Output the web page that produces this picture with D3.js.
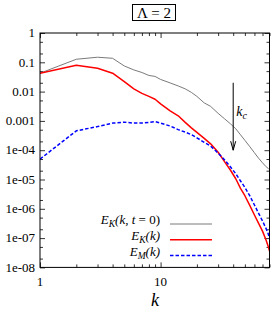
<!DOCTYPE html>
<html>
<head>
<meta charset="utf-8">
<script src="https://cdn.jsdelivr.net/npm/d3@7"></script>
<style>
body { margin: 0; background: #fff; }
svg { display: block; }
text { font-family: "Liberation Serif", "Times New Roman", serif; }
</style>
</head>
<body>
<script>
var w = 274, h = 311;
var margin = {top: 33, right: 4.5, bottom: 43.6, left: 40};
var innerW = w - margin.left - margin.right,
    innerH = h - margin.top - margin.bottom;

// wavenumbers and spectra
var ks = [1, 2, 3, 4, 5, 6, 7, 8, 9, 10, 12, 14, 16, 18, 20, 23, 26, 30, 34, 38, 42, 46, 50, 55, 60, 65, 70, 75, 78, 80];
var ekInit = [0.0424, 0.127, 0.149, 0.137, 0.075, 0.055, 0.0449, 0.0356, 0.033, 0.026, 0.0198, 0.0156, 0.0124, 0.0094, 0.00686,
    0.00412, 0.00313, 0.00181, 0.00117, 7.9e-4, 5.4e-4, 3.35e-4, 2.17e-4, 1.31e-4, 8.2e-5, 5.3e-5, 3.72e-5, 2.72e-5, 2.4e-5, 2.15e-5];
var ek = [0.0424, 0.0794, 0.0627, 0.0424, 0.0219, 0.0124, 0.0087, 0.00686, 0.0055, 0.0038, 0.0022, 0.00149, 8.9e-4, 5.8e-4, 4.07e-4,
    2.54e-4, 1.65e-4, 8.5e-5, 4.0e-5, 2.07e-5, 1.06e-5, 5.0e-6, 2.79e-6, 1.28e-6, 6.15e-7, 3.18e-7, 1.73e-7, 8.5e-8, 5.3e-8, 3.6e-8];
var em = [4.97e-5, 4.58e-4, 6.4e-4, 8.4e-4, 9.06e-4, 8.4e-4, 8.4e-4, 8.9e-4, 9.5e-4, 8.4e-4, 6.7e-4, 5.04e-4, 4.14e-4, 3.4e-4, 2.64e-4,
    1.86e-4, 1.38e-4, 8.0e-5, 4.6e-5, 2.68e-5, 1.57e-5, 8.9e-6, 5.4e-6, 2.75e-6, 1.35e-6, 7.0e-7, 3.84e-7, 2.1e-7, 1.42e-7, 9.6e-8];

var xTicks = [1, 10];
var xMinor = [2, 3, 4, 5, 6, 7, 8, 9, 20, 30, 40, 50, 60, 70, 80];
var yTicks = [1, 0.1, 0.01, 0.001, 1e-4, 1e-5, 1e-6, 1e-7, 1e-8];
var yTickLabels = ['1', '0.1', '0.01', '0.001', '1e-04', '1e-05', '1e-06', '1e-07', '1e-08'];
var yMinor = [];
yTicks.slice(1).forEach(function(t) { yMinor.push(t * 2, t * 5); });

var kc = 40, arrowFrom = 0.02, arrowTo = 1e-4;

var series = [
    {name: 'init', vals: ekInit, color: '#7a7a7a', width: 1, dash: null},
    {name: 'ek', vals: ek, color: '#ff0000', width: 1.5, dash: null},
    {name: 'em', vals: em, color: '#0000ff', width: 1.5, dash: '3.5,2'}
];

var x = d3.scaleLog().domain([1, 80]).range([0, innerW]);
var y = d3.scaleLog().domain([1e-8, 1]).range([innerH, 0]);

var svg = d3.select('body').append('svg')
    .attr('width', w)
    .attr('height', h);

var g = svg.append('g')
    .attr('transform', 'translate(' + [margin.left, margin.top] + ')');

g.append('clipPath').attr('id', 'clip')
  .append('rect').attr('width', innerW).attr('height', innerH);

// ticks, all pointing inward
function tickAxis(axis, tr, vals, size) {
    var a = g.append('g')
        .attr('transform', tr)
        .call(axis.tickValues(vals).tickSize(size).tickFormat(''));
    a.select('.domain').remove();
    a.selectAll('line').attr('stroke', '#000').attr('stroke-width', 0.8);
    return a;
}
tickAxis(d3.axisBottom(x), 'translate(0,' + innerH + ')', xTicks, -5);
tickAxis(d3.axisBottom(x), 'translate(0,' + innerH + ')', xMinor, -3);
tickAxis(d3.axisTop(x), null, xTicks, -5);
tickAxis(d3.axisTop(x), null, xMinor, -3);
tickAxis(d3.axisLeft(y), null, yTicks, -5);
tickAxis(d3.axisLeft(y), null, yMinor, -3);
tickAxis(d3.axisRight(y), 'translate(' + innerW + ',0)', yTicks, -5);
tickAxis(d3.axisRight(y), 'translate(' + innerW + ',0)', yMinor, -3);

// tick labels
g.selectAll('.xl').data(xTicks).enter().append('text')
    .attr('x', function(d) { return x(d); })
    .attr('y', innerH + 19)
    .attr('text-anchor', 'middle')
    .style('font-size', '13px')
    .text(function(d) { return d; });

g.selectAll('.yl').data(yTicks).enter().append('text')
    .attr('x', -5)
    .attr('y', function(d) { return y(d); })
    .attr('dy', '0.33em')
    .attr('text-anchor', 'end')
    .style('font-size', '13px')
    .text(function(d, i) { return yTickLabels[i]; });

// curves
var line = d3.line()
    .x(function(d) { return x(d[0]); })
    .y(function(d) { return y(d[1]); });

g.append('g').attr('clip-path', 'url(#clip)')
  .selectAll('path').data(series).enter().append('path')
    .attr('d', function(s) { return line(ks.map(function(k, i) { return [k, s.vals[i]]; })); })
    .attr('fill', 'none')
    .attr('stroke', function(s) { return s.color; })
    .attr('stroke-width', function(s) { return s.width; })
    .attr('stroke-dasharray', function(s) { return s.dash; })
    .attr('stroke-linejoin', 'round');

// k_c arrow
var ax = x(kc), ay0 = y(arrowFrom), ay1 = y(arrowTo);
g.append('line')
    .attr('x1', ax).attr('x2', ax).attr('y1', ay0).attr('y2', ay1)
    .attr('stroke', '#000').attr('stroke-width', 1);
g.append('path')
    .attr('d', 'M' + (ax - 2.5) + ',' + (ay1 - 9) + 'L' + ax + ',' + ay1 + 'L' + (ax + 2.5) + ',' + (ay1 - 9))
    .attr('fill', 'none').attr('stroke', '#000').attr('stroke-width', 1);
var kcl = g.append('text')
    .attr('x', ax + 3)
    .attr('y', y(arrowFrom) + 33)
    .style('font-size', '14px')
    .style('font-style', 'italic');
kcl.append('tspan').text('k');
kcl.append('tspan').attr('dy', 3).style('font-size', '10px').text('c');

// frame
g.append('rect')
    .attr('width', innerW).attr('height', innerH)
    .attr('fill', 'none').attr('stroke', '#000').attr('stroke-width', 1);

// legend
var legend = [
    {parts: [['E', 0], ['K', 1], ['(k, t', 0], [' = 0)', 2]]},
    {parts: [['E', 0], ['K', 1], ['(k)', 0]]},
    {parts: [['E', 0], ['M', 1], ['(k)', 0]]}
];
var lg = g.selectAll('.lg').data(series).enter().append('g')
    .attr('transform', function(d, i) { return 'translate(0,' + (191 + i * 15.8) + ')'; });
lg.append('line')
    .attr('x1', 130).attr('x2', 172)
    .attr('stroke', function(s) { return s.color; })
    .attr('stroke-width', function(s) { return s.width; })
    .attr('stroke-dasharray', function(s) { return s.dash; });
lg.append('text')
    .attr('x', 120)
    .attr('dy', '0.32em')
    .attr('text-anchor', 'end')
    .style('font-size', '13px')
    .each(function(d, i) {
        var t = d3.select(this), shift = 0;
        legend[i].parts.forEach(function(p) {
            var ts = t.append('tspan').text(p[0]);
            if (p[1] === 1) {
                ts.attr('dy', 3 - shift).style('font-size', '9.5px').style('font-style', 'italic');
                shift = 3;
            } else {
                ts.attr('dy', -shift);
                shift = 0;
                ts.style('font-style', p[1] === 2 ? 'normal' : 'italic');
            }
        });
    });

// x label
svg.append('text')
    .attr('x', 155)
    .attr('y', 306)
    .attr('text-anchor', 'middle')
    .style('font-size', '18px')
    .style('font-style', 'italic')
    .text('k');

// title box
var title = svg.append('g');
title.append('rect')
    .attr('x', 132.5).attr('y', 4.5).attr('width', 43).attr('height', 16)
    .attr('fill', '#fff').attr('stroke', '#000').attr('stroke-width', 1);
title.append('text')
    .attr('x', 154).attr('y', 18)
    .attr('text-anchor', 'middle')
    .style('font-size', '15px')
    .text('\u039B = 2');
</script>
</body>
</html>
